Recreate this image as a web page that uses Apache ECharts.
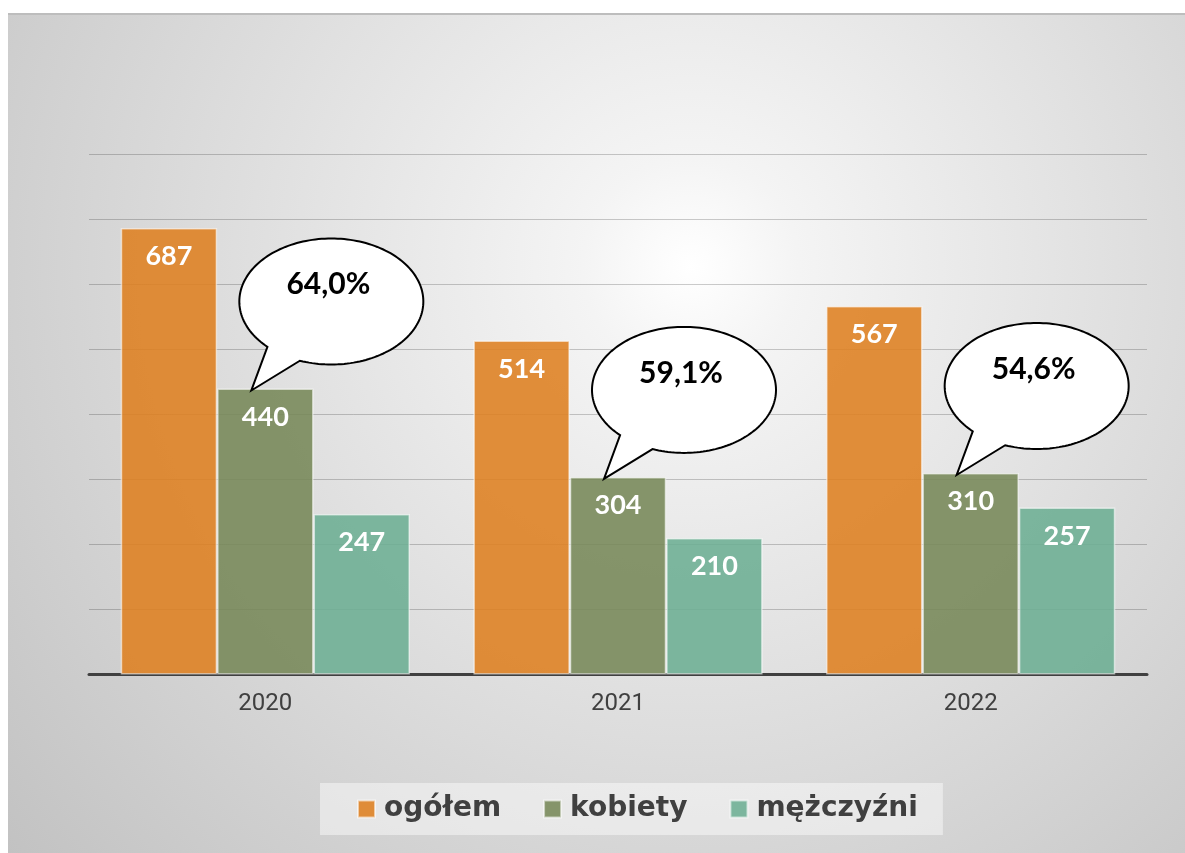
<!DOCTYPE html>
<html>
<head>
<meta charset="utf-8">
<script src="https://cdn.jsdelivr.net/npm/echarts@6/dist/echarts.min.js"></script>
<style>
  html, body { margin: 0; padding: 0; background: #fff; }
  #frame {
    position: absolute; left: 8px; top: 13px; width: 1177px; height: 839px;
    border-top: 2px solid #bdbdbd;
    background: radial-gradient(circle farthest-corner at 58% 30%, #ffffff 0%, #f4f4f4 12%, #c2c2c2 100%);
  }
  #main { position: absolute; left: 0; top: 0; width: 1185px; height: 853px; }
</style>
</head>
<body>
<div id="frame"></div>
<div id="main"></div>
<script>
// dane z wykresu
const years = ['2020', '2021', '2022'];
const ogolem = [687, 514, 567];
const kobiety = [440, 304, 310];
const mezczyzni = [247, 210, 257];
// udział kobiet (napisy w dymkach)
const kobietyShare = ['64,0%', '59,1%', '54,6%'];

const seriesNames = ['ogółem', 'kobiety', 'mężczyźni'];
const colors = ['rgba(222,128,32,0.88)', 'rgba(118,135,88,0.88)', 'rgba(108,174,147,0.88)'];

const chart = echarts.init(document.getElementById('main'), null, { renderer: 'canvas' });

// dymek: elipsa z ogonkiem wskazującym na słupek "kobiety"
const renderBubble = (params, api) => {
  let p = api.coord([api.value(0), api.value(1)]);
  let ex = p[0] + 66, ey = p[1] - 87, rx = 92, ry = 63;
  let tip = [p[0] - 14, p[1] + 2];
  let pts = [];
  for (let a = 0; a < 360; a += 2) {
    if (a > 110 && a < 134) {
      if (a === 112) pts.push(tip);
      continue;
    }
    let t = a * Math.PI / 180;
    pts.push([ex + rx * Math.cos(t), ey + ry * Math.sin(t)]);
  }
  return {
    type: 'group',
    children: [{
      type: 'polygon',
      shape: { points: pts },
      style: { fill: '#fff', stroke: '#000', lineWidth: 2 }
    }, {
      type: 'text',
      x: ex - 3,
      y: ey - 17,
      style: {
        text: kobietyShare[params.dataIndex],
        fill: '#000',
        font: 'bold 30px Lato',
        align: 'center',
        verticalAlign: 'middle'
      }
    }]
  };
};

const barLabel = {
  show: true,
  position: 'insideTop',
  distance: 15,
  color: '#fff',
  fontFamily: 'Lato',
  fontWeight: 'bold',
  fontSize: 27
};

const makeBar = (name, data, i) => ({
  name: name,
  type: 'bar',
  data: data,
  barGap: '0%',
  barCategoryGap: '18%',
  itemStyle: { color: colors[i], borderColor: 'rgba(255,255,255,0.55)', borderWidth: 1.5 },
  label: barLabel,
  emphasis: { disabled: true }
});

const option = {
  animation: false,
  grid: { left: 89, right: 38, top: 154.5, bottom: 178.5 },
  legend: {
    data: seriesNames,
    left: 320,
    top: 783,
    padding: [9, 25, 9, 37],
    backgroundColor: 'rgba(255,255,255,0.45)',
    itemWidth: 17,
    itemHeight: 17,
    itemGap: 42,
    icon: 'rect',
    textStyle: {
      fontFamily: 'DejaVu Sans',
      fontWeight: 'bold',
      fontSize: 28,
      color: '#404040',
      lineHeight: 34,
      padding: [0, 0, 0, 4]
    }
  },
  xAxis: {
    type: 'category',
    data: years,
    axisTick: { show: false },
    axisLine: { lineStyle: { color: '#404040', width: 3 } },
    axisLabel: { color: '#404040', fontFamily: 'Roboto', fontSize: 24, margin: 17 }
  },
  yAxis: {
    type: 'value',
    min: 0,
    max: 800,
    interval: 100,
    axisLabel: { show: false },
    axisLine: { show: false },
    axisTick: { show: false },
    splitLine: { lineStyle: { color: 'rgba(0,0,0,0.2)', width: 1 } }
  },
  series: [
    makeBar(seriesNames[0], ogolem, 0),
    makeBar(seriesNames[1], kobiety, 1),
    makeBar(seriesNames[2], mezczyzni, 2),
    {
      name: 'udział kobiet',
      type: 'custom',
      renderItem: renderBubble,
      data: kobiety.map((v, i) => [i, v]),
      z: 10,
      silent: true
    }
  ]
};

chart.setOption(option);
</script>
</body>
</html>
